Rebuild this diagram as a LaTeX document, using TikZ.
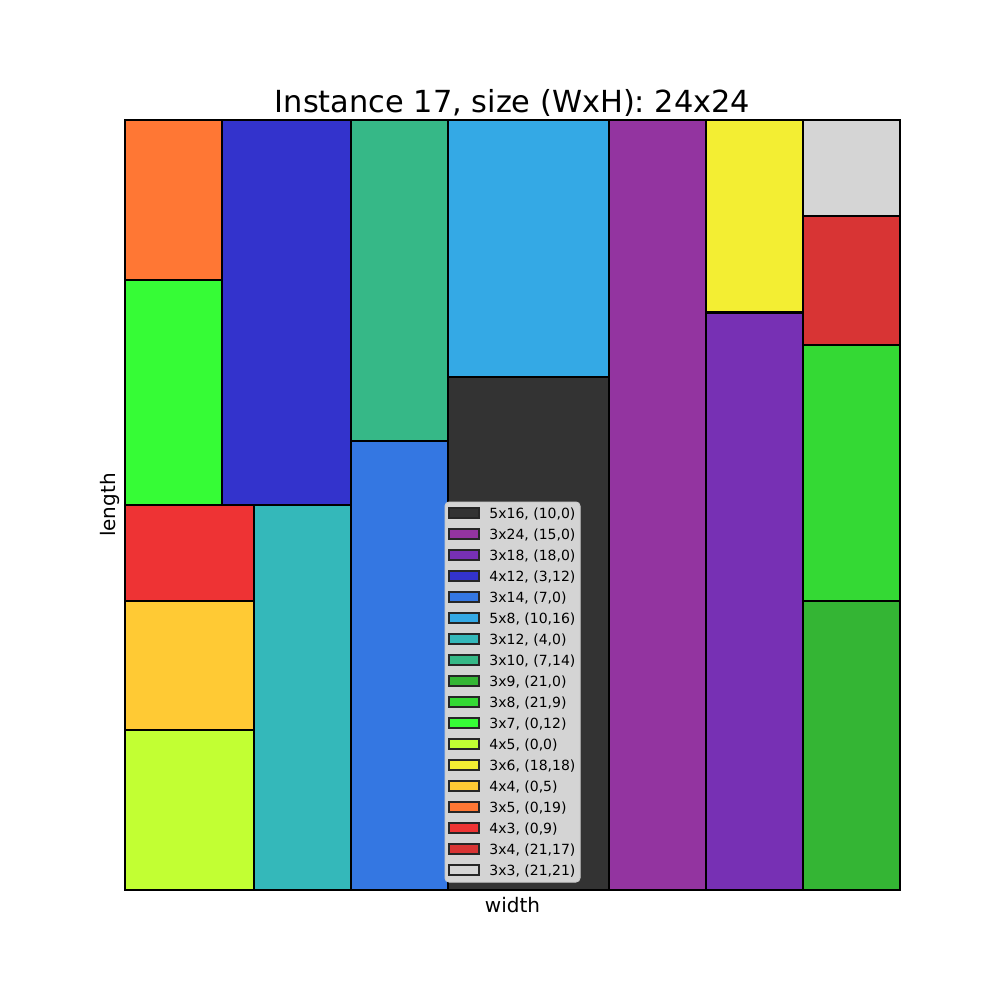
\documentclass[tikz,border=0pt]{standalone}
\usepackage{fontspec}
\setmainfont{DejaVu Sans}
\definecolor{cA}{HTML}{333333}
\definecolor{cB}{HTML}{9334A0}
\definecolor{cC}{HTML}{7730B4}
\definecolor{cD}{HTML}{3333CC}
\definecolor{cE}{HTML}{3477E2}
\definecolor{cF}{HTML}{34A9E5}
\definecolor{cG}{HTML}{34B8BA}
\definecolor{cH}{HTML}{36B887}
\definecolor{cI}{HTML}{34B534}
\definecolor{cJ}{HTML}{34D934}
\definecolor{cK}{HTML}{36FC36}
\definecolor{cL}{HTML}{C2FF33}
\definecolor{cM}{HTML}{F3EE33}
\definecolor{cN}{HTML}{FFCA34}
\definecolor{cO}{HTML}{FF7734}
\definecolor{cP}{HTML}{EE3334}
\definecolor{cQ}{HTML}{D83434}
\definecolor{cR}{HTML}{D5D5D5}
\definecolor{legfill}{HTML}{D4D4D4}
\definecolor{legedge}{HTML}{CCCCCC}
\tikzset{
  pack/.style={draw=black, line width=1pt},
  handle/.style={draw=black!85, line width=1pt},
  legtext/.style={anchor=base west, inner sep=0pt, font=\fontsize{7}{8.4}\selectfont},
  axlabel/.style={inner sep=0pt, font=\fontsize{10}{12}\selectfont},
  titletext/.style={inner sep=0pt, anchor=base, font=\fontsize{15.2}{18}\selectfont}
}
\begin{document}
\begin{tikzpicture}[x=0.5pt,y=-0.5pt]
\fill[white] (0,0) rectangle (1000,1000);
\useasboundingbox (0,0) rectangle (1000,1000);
% packing rectangles in data coordinates
\begin{scope}[shift={(62.5pt,-445pt)}, x=16.1458pt, y=16.0417pt]
\foreach \w/\h/\px/\py/\c in {5/16/10/0/cA, 3/24/15/0/cB, 3/18/18/0/cC, 4/12/3/12/cD,
  3/14/7/0/cE, 5/8/10/16/cF, 3/12/4/0/cG, 3/10/7/14/cH, 3/9/21/0/cI, 3/8/21/9/cJ,
  3/7/0/12/cK, 4/5/0/0/cL, 3/6/18/18/cM, 4/4/0/5/cN, 3/5/0/19/cO, 4/3/0/9/cP,
  3/4/21/17/cQ, 3/3/21/21/cR}
  \filldraw[pack, fill=\c] (\px,\py) rectangle ++(\w,\h);
\end{scope}
% axes frame
\draw[line width=0.75pt] (125,120) rectangle (900,890);
% title and axis labels
\node[titletext] (title) at (512.5,113) {Instance 17, size (WxH): 24x24};
\node[axlabel, anchor=base] (xlab) at (512.5,912) {width};
\node[axlabel, rotate=90] (ylab) at (110,505) {length};
% legend
\draw[fill=legfill, draw=legedge, rounded corners=2pt, line width=0.5pt] (445,502) rectangle (580,882);
\foreach \c/\t [count=\i from 0] in {cA/{5x16, (10,0)}, cB/{3x24, (15,0)}, cC/{3x18, (18,0)},
  cD/{4x12, (3,12)}, cE/{3x14, (7,0)}, cF/{5x8, (10,16)}, cG/{3x12, (4,0)}, cH/{3x10, (7,14)},
  cI/{3x9, (21,0)}, cJ/{3x8, (21,9)}, cK/{3x7, (0,12)}, cL/{4x5, (0,0)}, cM/{3x6, (18,18)},
  cN/{4x4, (0,5)}, cO/{3x5, (0,19)}, cP/{4x3, (0,9)}, cQ/{3x4, (21,17)}, cR/{3x3, (21,21)}}
{
  \pgfmathsetmacro{\yy}{513+21*\i}
  \filldraw[handle, fill=\c] (449,\yy-5) rectangle (479,\yy+5);
  \node[legtext] (leg\i) at (489,\yy+5) {\t};
}
\end{tikzpicture}
\end{document}
